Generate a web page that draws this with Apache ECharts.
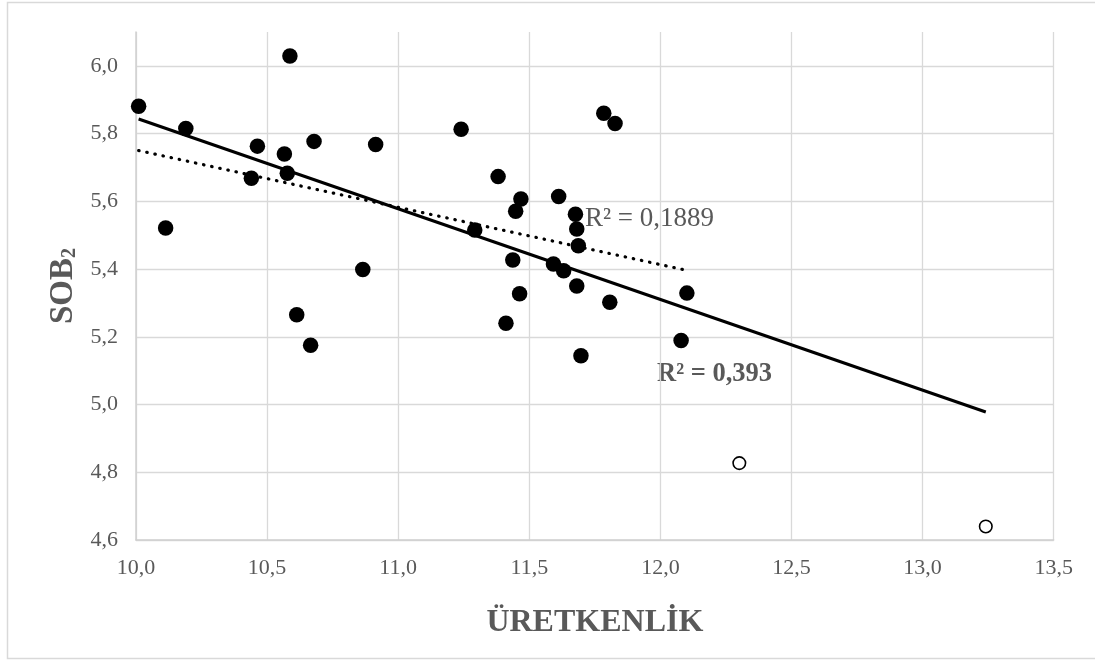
<!DOCTYPE html>
<html>
<head>
<meta charset="utf-8">
<script src="https://cdn.jsdelivr.net/npm/echarts@6/dist/echarts.min.js"></script>
<style>html,body{margin:0;padding:0;background:#fff}#c{width:1095px;height:660px}</style>
</head>
<body>
<div id="c"></div>
<script>
// Filled points (ÜRETKENLİK, SOB2)
const xFilled = [10.01,10.19,10.587,10.113,10.463,10.44,10.566,10.577,10.679,10.914,10.865,10.613,10.666,
  11.24,11.784,11.827,11.381,11.468,11.448,11.612,11.676,11.681,11.687,11.292,11.437,11.592,11.631,11.681,11.463,11.807,12.101,11.411,11.697,12.079];
const yFilled = [5.881,5.815,6.029,5.521,5.763,5.668,5.74,5.683,5.777,5.768,5.399,5.265,5.175,
  5.813,5.86,5.83,5.673,5.607,5.571,5.614,5.562,5.518,5.469,5.515,5.427,5.415,5.395,5.35,5.327,5.302,5.329,5.24,5.144,5.189];
// Hollow (outlier) points
const xHollow = [12.301,13.241];
const yHollow = [4.827,4.64];
// Trend lines (endpoints)
const trendAllX = [10.01,13.241];
const trendAllY = [5.843,4.978];
const trendFilledX = [10.01,12.09];
const trendFilledY = [5.75,5.398];
const r2Labels = ['R² = 0,1889','R² = 0,393'];
const xName = 'ÜRETKENLİK';
const yNameMain = 'SOB';
const yNameSub = '2';

const zip = (a,b)=>a.map((v,i)=>[v,b[i]]);
const fmt = v => v.toFixed(1).replace('.', ',');
const serif = '"Liberation Serif","Times New Roman",serif';
const gray = '#595959';

const chart = echarts.init(document.getElementById('c'));
chart.setOption({
  animation:false,
  backgroundColor:'#fff',
  grid:{left:136,right:41.3,top:32,bottom:120,containLabel:false},
  xAxis:{
    type:'value',min:10,max:13.5,interval:0.5,
    name:xName,nameLocation:'middle',nameGap:67,
    nameTextStyle:{fontFamily:serif,fontWeight:'bold',fontSize:32,color:gray},
    axisLine:{show:true,lineStyle:{color:'#d0d0d0',width:1.5}},
    axisTick:{show:false},
    axisLabel:{formatter:fmt,fontFamily:serif,fontSize:22,color:gray,margin:17},
    splitLine:{show:true,lineStyle:{color:'#d9d9d9',width:1.3}}
  },
  yAxis:{
    type:'value',min:4.6,max:6.1,interval:0.2,
    name:'{a|'+yNameMain+'}{b|'+yNameSub+'}',nameLocation:'middle',nameGap:56,nameRotate:90,
    nameTextStyle:{
      color:gray,
      rich:{
        a:{fontFamily:serif,fontWeight:'bold',fontSize:33,lineHeight:33,color:gray,verticalAlign:'top'},
        b:{fontFamily:serif,fontWeight:'bold',fontSize:20,lineHeight:20,color:gray,verticalAlign:'bottom',padding:[20,0,0,0]}
      }
    },
    axisLine:{show:true,lineStyle:{color:'#d0d0d0',width:1.5}},
    axisTick:{show:false},
    axisLabel:{formatter:fmt,fontFamily:serif,fontSize:22,color:gray,margin:18,showMaxLabel:false},
    splitLine:{show:true,showMaxLine:false,lineStyle:{color:'#d9d9d9',width:1.3}}
  },
  graphic:[
    {type:'rect',silent:true,z:-1,shape:{x:7.5,y:2.5,width:1100,height:656},style:{fill:'none',stroke:'#d9d9d9',lineWidth:1.5}},
    {type:'text',left:585,top:205,style:{text:r2Labels[0],font:'27px '+serif,fill:gray}},
    {type:'text',left:657,top:361,style:{text:r2Labels[1],font:'bold 26.5px '+serif,fill:gray}}
  ],
  series:[
    {type:'scatter',data:zip(xFilled,yFilled),symbol:'circle',symbolSize:15.5,
     itemStyle:{color:'#000',opacity:1},z:3},
    {type:'scatter',data:zip(xHollow,yHollow),symbol:'circle',symbolSize:12.5,
     itemStyle:{color:'#fff',borderColor:'#000',borderWidth:1.6,opacity:1},z:3},
    {type:'line',data:zip(trendAllX,trendAllY),symbol:'none',
     lineStyle:{color:'#000',width:3},z:4},
    {type:'line',data:zip(trendFilledX,trendFilledY),symbol:'none',
     lineStyle:{color:'#000',width:3.2,type:[0.5,7.8],cap:'round'},z:4}
  ]
});
</script>
</body>
</html>
